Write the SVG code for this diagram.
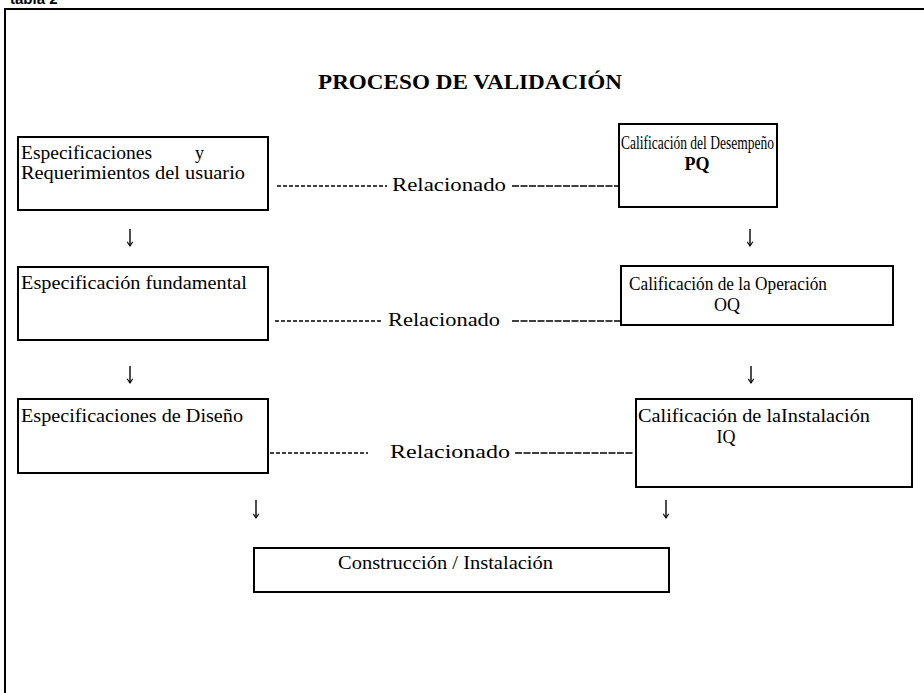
<svg xmlns="http://www.w3.org/2000/svg" width="924" height="693" viewBox="0 0 924 693">
<style>
.bg{fill:#ffffff}
.frame{fill:none;stroke:#000;stroke-width:2}
.box{fill:#ffffff;stroke:#000;stroke-width:2}
.t{font-family:"Liberation Serif","Times New Roman",serif;font-size:18px;fill:#000}
.b{font-weight:bold}
.title{font-family:"Liberation Serif","Times New Roman",serif;font-size:22px;font-weight:bold;fill:#000}
.tab{font-family:"Liberation Sans",Arial,sans-serif;font-size:15px;font-weight:bold;fill:#000}
.dsh{stroke:#000;stroke-width:1.4;stroke-dasharray:4 2;fill:none}
.dl{stroke:#000;stroke-width:1.4;stroke-dasharray:7 1.5;fill:none}
.arr{stroke:#000;stroke-width:1.4;fill:none;marker-end:url(#ah)}
</style>
<defs>
<marker id="ah" viewBox="0 0 10 10" refX="9" refY="5" markerWidth="7" markerHeight="7" orient="auto" markerUnits="userSpaceOnUse">
<path d="M3 1 L9 5 L3 9" fill="none" stroke="#000" stroke-width="1.6"/>
</marker>
</defs>
<rect class="bg" x="0" y="0" width="924" height="693"/>
<g id="frame">
<text class="tab" x="10" y="4">tabla 2</text>
<path class="frame" d="M5 693 L5 9 L924 9"/>
</g>
<g id="title">
<text class="title" x="470" y="89" text-anchor="middle" textLength="304" lengthAdjust="spacingAndGlyphs">PROCESO DE VALIDACIÓN</text>
</g>
<g id="node-urs">
<rect class="box" x="18" y="137" width="250" height="73"/>
<text class="t" x="21" y="159" textLength="131" lengthAdjust="spacingAndGlyphs">Especificaciones</text>
<text class="t" x="195" y="159">y</text>
<text class="t" x="21" y="179" textLength="224" lengthAdjust="spacingAndGlyphs">Requerimientos del usuario</text>
</g>
<g id="node-fs">
<rect class="box" x="18" y="267" width="250" height="73"/>
<text class="t" x="21" y="289" textLength="226" lengthAdjust="spacingAndGlyphs">Especificación fundamental</text>
</g>
<g id="node-ds">
<rect class="box" x="18" y="399" width="250" height="74"/>
<text class="t" x="21" y="422" textLength="222" lengthAdjust="spacingAndGlyphs">Especificaciones de Diseño</text>
</g>
<g id="node-pq">
<rect class="box" x="619" y="124" width="158" height="83"/>
<text class="t" x="621" y="149" textLength="153" lengthAdjust="spacingAndGlyphs">Calificación del Desempeño</text>
<text class="t b" x="697" y="170" text-anchor="middle">PQ</text>
</g>
<g id="node-oq">
<rect class="box" x="621" y="266" width="272" height="59"/>
<text class="t" x="629" y="290" textLength="198" lengthAdjust="spacingAndGlyphs">Calificación de la Operación</text>
<text class="t" x="727" y="311" text-anchor="middle">OQ</text>
</g>
<g id="node-iq">
<rect class="box" x="636" y="399" width="276" height="88"/>
<text class="t" x="638" y="422" textLength="232" lengthAdjust="spacingAndGlyphs">Calificación de laInstalación</text>
<text class="t" x="726" y="443" text-anchor="middle">IQ</text>
</g>
<g id="node-ci">
<rect class="box" x="254" y="548" width="415" height="44"/>
<text class="t" x="338" y="569" textLength="215" lengthAdjust="spacingAndGlyphs">Construcción / Instalación</text>
</g>
<g id="connectors">
<line class="dsh" x1="277" y1="186" x2="387" y2="186"/>
<text class="t" x="392" y="191" textLength="114" lengthAdjust="spacingAndGlyphs">Relacionado</text>
<line class="dl" x1="512" y1="186" x2="620" y2="186"/>
<line class="dsh" x1="275" y1="321" x2="383" y2="321"/>
<text class="t" x="388" y="326" textLength="112" lengthAdjust="spacingAndGlyphs">Relacionado</text>
<line class="dl" x1="512" y1="321" x2="620" y2="321"/>
<line class="dsh" x1="270" y1="453" x2="368" y2="453"/>
<text class="t" x="390" y="458" textLength="120" lengthAdjust="spacingAndGlyphs">Relacionado</text>
<line class="dl" x1="515" y1="453" x2="634" y2="453"/>
<path class="arr" d="M130 229 L130 246"/>
<path class="arr" d="M750 229 L750 246"/>
<path class="arr" d="M130 366 L130 383"/>
<path class="arr" d="M751 366 L751 383"/>
<path class="arr" d="M256 500 L256 518"/>
<path class="arr" d="M666 500 L666 518"/>
</g>
</svg>
